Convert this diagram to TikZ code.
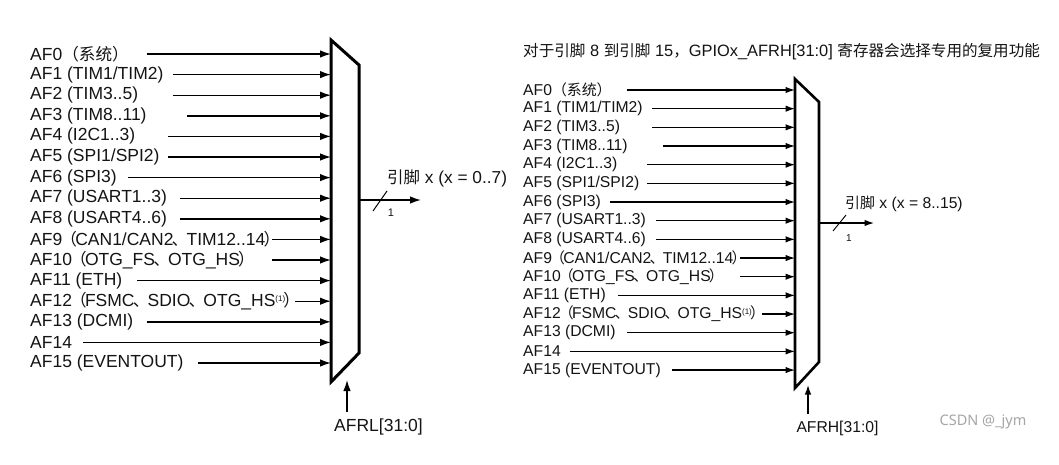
\documentclass[tikz,border=0pt]{standalone}
\usepackage{fontspec}
\setmainfont{Liberation Sans}
\newfontfamily\cjk[Scale=0.95]{Noto Sans CJK SC}
\newfontfamily\wmfont{Noto Sans}
\usetikzlibrary{arrows.meta}
\newcommand\zh[1]{{\cjk #1}}
\newcommand\zp[1]{{\cjk\kern-1.8pt#1\kern-1.8pt}}
\newcommand\supone{\raisebox{0.55ex}{\fontsize{8}{8}\selectfont(1)}}
\tikzset{
  lblL/.style={anchor=west, inner sep=0pt, text=black!92, font=\fontsize{17.5}{21}\selectfont},
  lblR/.style={anchor=west, inner sep=0pt, text=black!92, font=\fontsize{15.7}{19}\selectfont},
  inL/.style={-{Latex[length=11pt,width=7.5pt]}, line width=1.4pt},
  inR/.style={-{Latex[length=9.5pt,width=6.5pt]}, line width=1.2pt},
  muxL/.style={line width=3pt, line join=miter},
  muxR/.style={line width=2.6pt, line join=miter},
  onelbl/.style={inner sep=0pt, text=black!92, font=\fontsize{11}{12}\selectfont},
}
\begin{document}
\begin{tikzpicture}[x=1pt,y=-1pt]
\useasboundingbox[fill=white] (0,0) rectangle (1059,464);
% ---------------- left multiplexer ----------------
\coordinate (LA) at (331,40);
\coordinate (LB) at (359,65);
\coordinate (LC) at (359,353);
\coordinate (LD) at (331,382);
\draw[muxL] (LA) -- (LB) -- (LC) -- (LD) -- cycle;
\foreach \sx/\t [count=\i from 0] in {
  147/{AF0\zh{（系统）}},
  173/{AF1 (TIM1/TIM2)},
  173/{AF2 (TIM3..5)},
  187/{AF3 (TIM8..11)},
  168/{AF4 (I2C1..3)},
  168/{AF5 (SPI1/SPI2)},
  128/{AF6 (SPI3)},
  180/{AF7 (USART1..3)},
  180/{AF8 (USART4..6)},
  272/{AF9\zp{（}CAN1/CAN2\zp{、}TIM12..14\zp{）}},
  272/{AF10\zp{（}OTG\_FS\zp{、}OTG\_HS\zp{）}},
  137/{AF11 (ETH)},
  295/{AF12\zp{（}FSMC\zp{、}SDIO\zp{、}OTG\_HS\supone\zp{）}},
  147/{AF13 (DCMI)},
  83/{AF14},
  198/{AF15 (EVENTOUT)}}
{
  \pgfmathsetmacro\yy{54+20.6*\i}
  \node[lblL] (L\i) at (30,\yy) {\t};
  \coordinate (Ls\i) at (\sx,\yy);
  \draw[inL] (Ls\i) -- (Ls\i -| LA);
}
\coordinate (Lout) at (359,200);
\coordinate (LoutE) at (421,200);
\draw[inL] (Lout) -- (LoutE);
\draw[line width=1pt] (373,211) -- (387,191);
\node[onelbl] (Lone) at (391,213) {1};
\node[lblL, font=\fontsize{17.3}{20}\selectfont] (Lpin) at (387,178) {\zh{引脚} x (x = 0..7)};
\coordinate (Lsel) at (347,412);
\draw[inL] (Lsel) -- (347,380);
\node[lblL, anchor=center] (Lreg) at (378.5,427) {AFRL[31:0]};
% ---------------- right multiplexer ----------------
\node[lblR, font=\fontsize{16.4}{19}\selectfont] (head) at (523,52)
  {\zh{对于引脚} 8 \zh{到引脚} 15\zh{，}GPIOx\_AFRH[31:0] \zh{寄存器会选择专用的复用功能}};
\coordinate (RA) at (795,79);
\coordinate (RB) at (819,102);
\coordinate (RC) at (819,362);
\coordinate (RD) at (795,388);
\draw[muxR] (RA) -- (RB) -- (RC) -- (RD) -- cycle;
\foreach \sx/\t [count=\i from 0] in {
  627/{AF0\zh{（系统）}},
  652/{AF1 (TIM1/TIM2)},
  652/{AF2 (TIM3..5)},
  663/{AF3 (TIM8..11)},
  647/{AF4 (I2C1..3)},
  647/{AF5 (SPI1/SPI2)},
  610/{AF6 (SPI3)},
  656/{AF7 (USART1..3)},
  656/{AF8 (USART4..6)},
  740/{AF9\zp{（}CAN1/CAN2\zp{、}TIM12..14\zp{）}},
  740/{AF10\zp{（}OTG\_FS\zp{、}OTG\_HS\zp{）}},
  618/{AF11 (ETH)},
  762/{AF12\zp{（}FSMC\zp{、}SDIO\zp{、}OTG\_HS\supone\zp{）}},
  627/{AF13 (DCMI)},
  570/{AF14},
  672/{AF15 (EVENTOUT)}}
{
  \pgfmathsetmacro\yy{90+18.67*\i}
  \node[lblR] (R\i) at (523,\yy) {\t};
  \coordinate (Rs\i) at (\sx,\yy);
  \draw[inR] (Rs\i) -- (Rs\i -| RA);
}
\coordinate (Rout) at (819,223);
\coordinate (RoutE) at (874,223);
\draw[inR] (Rout) -- (RoutE);
\draw[line width=0.9pt] (833,231) -- (846,215);
\node[onelbl, font=\fontsize{10}{11}\selectfont] (Rone) at (849,238) {1};
\node[lblR] (Rpin) at (845,204) {\zh{引脚} x (x = 8..15)};
\coordinate (Rsel) at (808,414);
\draw[inR] (Rsel) -- (808,385);
\node[lblR, anchor=center] (Rreg) at (837.5,428) {AFRH[31:0]};
% watermark
\node[inner sep=0pt, text=black!35, font=\wmfont\fontsize{14.5}{16}\selectfont] (wm) at (983,422) {CSDN @\_jym};
\end{tikzpicture}
\end{document}
